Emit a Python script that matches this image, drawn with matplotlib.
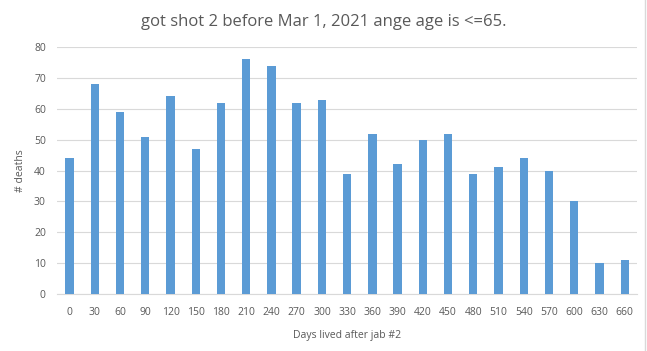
import numpy as np
import matplotlib.pyplot as plt

plt.rcParams['font.family'] = ['Open Sans', 'DejaVu Sans']

days = [0, 30, 60, 90, 120, 150, 180, 210, 240, 270, 300, 330,
        360, 390, 420, 450, 480, 510, 540, 570, 600, 630, 660]
deaths = [44, 68, 59, 51, 64, 47, 62, 76, 74, 62, 63, 39,
          52, 42, 50, 52, 39, 41, 44, 40, 30, 10, 11]

fig = plt.figure(figsize=(6.47, 3.51), dpi=100)
ax = fig.add_axes([0.088, 0.162, 0.897, 0.704])

x = np.arange(len(days))
ax.bar(x, deaths, width=0.33, color='#5B9BD5', zorder=3)

ax.set_xlim(-0.5, len(days) - 0.5)
ax.set_ylim(0, 80)
ax.set_yticks(range(0, 81, 10))
ax.set_xticks(x)
ax.set_xticklabels([str(d) for d in days])
ax.grid(axis='y', color='#D9D9D9', linewidth=0.8, zorder=0)
for s in ['top', 'right', 'left']:
    ax.spines[s].set_visible(False)
ax.spines['bottom'].set_color('#D9D9D9')
ax.tick_params(axis='y', length=0, labelsize=7.5, colors='#595959', pad=8)
ax.tick_params(axis='x', length=0, labelsize=7.5, colors='#595959', pad=9)

ax.set_xlabel('Days lived after jab #2', fontsize=7.5, color='#595959', labelpad=9)
ax.set_ylabel('# deaths', fontsize=7.5, color='#595959', labelpad=6)
fig.suptitle('got shot 2 before Mar 1, 2021 ange age is <=65.', fontsize=12,
             color='#595959', y=0.96)

# thin frame line on the right edge like the original
fig.add_artist(plt.Line2D([0.997, 0.997], [0, 1], color='#D9D9D9', linewidth=1,
                          transform=fig.transFigure))

fig.savefig('out.png', dpi=100)
